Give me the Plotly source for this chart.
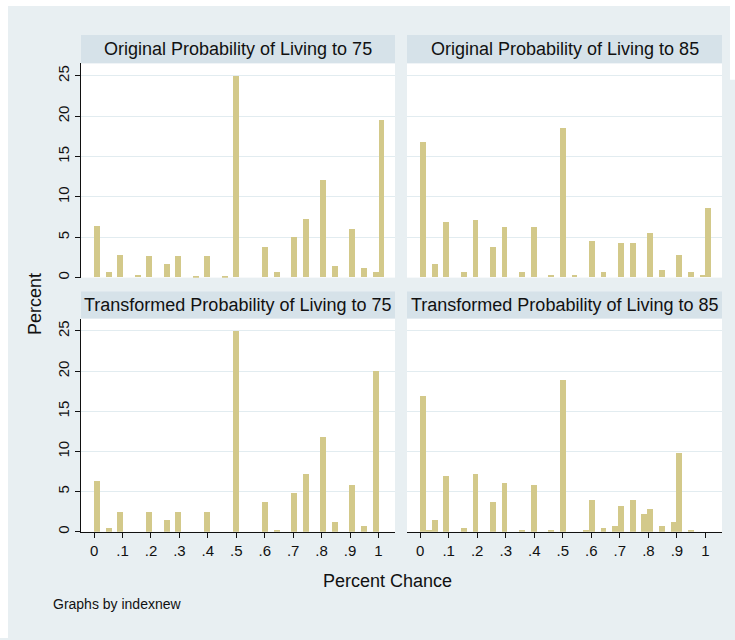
import numpy as np
import plotly.graph_objects as go

# Percent chance responses (as proportions) and percent of respondents at each value
orig75_chance = [0, .05, .1, .15, .2, .25, .3, .35, .4, .45, .5, .6, .65, .7, .75, .8, .85, .9, .95, .99, 1]
orig75_pct = [6.4, 0.6, 2.8, 0.35, 2.6, 1.6, 2.6, 0.15, 2.6, 0.15, 24.9, 3.8, 0.6, 5.0, 7.2, 12.0, 1.35, 6.0, 1.15, 0.6, 19.5]

orig85_chance = [0, .05, .1, .15, .2, .25, .3, .35, .4, .45, .5, .55, .6, .65, .7, .75, .8, .85, .9, .95, .99, 1]
orig85_pct = [16.8, 1.6, 6.9, 0.6, 7.1, 3.8, 6.2, 0.6, 6.2, 0.35, 18.5, 0.35, 4.5, 0.6, 4.25, 4.25, 5.5, 0.85, 2.8, 0.6, 0.35, 8.6]

trans75_chance = [0, .05, .1, .2, .25, .3, .4, .5, .6, .65, .7, .75, .8, .85, .9, .95, .99]
trans75_pct = [6.45, 0.55, 2.5, 2.5, 1.55, 2.5, 2.5, 25.0, 3.75, 0.3, 4.95, 7.2, 11.9, 1.3, 5.95, 0.8, 20.1]

trans85_chance = [0, .03, .05, .1, .15, .2, .25, .3, .35, .4, .45, .5, .58, .6, .65, .68, .7, .75, .78, .8, .85, .88, .9, .95]
trans85_pct = [17.0, 0.3, 1.55, 6.95, 0.55, 7.2, 3.75, 6.2, 0.3, 5.95, 0.3, 19.0, 0.3, 4.0, 0.55, 0.8, 3.3, 4.0, 2.3, 2.95, 0.8, 1.3, 9.9, 0.3]

panel_titles = [
    "Original Probability of Living to 75",
    "Original Probability of Living to 85",
    "Transformed Probability of Living to 75",
    "Transformed Probability of Living to 85",
]

x_tick_vals = [0, .1, .2, .3, .4, .5, .6, .7, .8, .9, 1]
x_tick_text = ["0", ".1", ".2", ".3", ".4", ".5", ".6", ".7", ".8", ".9", "1"]
y_tick_vals = [0, 5, 10, 15, 20, 25]

N_BINS = 49
BIN_W = 1.0 / N_BINS

W, H = 735, 640
FONT = "Liberation Sans Narrow, Arial Narrow, Liberation Sans, Arial, sans-serif"
BAR_COLOR = "#d3c98a"
BG = "#e8eff2"
STRIP = "#d6e2e9"
GRID = "#e2ecf0"


def px_x(x):
    return x / W


def px_y(y):
    return 1 - y / H


def bin_centers(values):
    idx = np.minimum(np.floor(np.asarray(values) * N_BINS + 1e-9), N_BINS)
    return (idx + 0.5) * BIN_W


# Pixel frame of each panel: (left, right, strip top, plot top, plot bottom)
cols = [(81, 395), (407, 722)]
rows = [(35, 63.5, 278.5), (292.5, 319.5, 533.5)]

panels = [
    (orig75_chance, orig75_pct),
    (orig85_chance, orig85_pct),
    (trans75_chance, trans75_pct),
    (trans85_chance, trans85_pct),
]

fig = go.Figure()
shapes = []
annotations = []

for i, (chance, pct) in enumerate(panels):
    r, c = divmod(i, 2)
    left, right = cols[c]
    s_top, p_top, p_bot = rows[r]
    n = i + 1
    xa = "x" if n == 1 else f"x{n}"
    ya = "y" if n == 1 else f"y{n}"
    fig.add_trace(go.Bar(
        x=bin_centers(chance), y=pct, width=BIN_W,
        marker=dict(color=BAR_COLOR, line=dict(width=0)),
        xaxis=xa, yaxis=ya, showlegend=False, hoverinfo="skip",
    ))
    xkey = "xaxis" if n == 1 else f"xaxis{n}"
    ykey = "yaxis" if n == 1 else f"yaxis{n}"
    bottom_row = r == 1
    left_col = c == 0
    fig.layout[xkey] = dict(
        domain=[px_x(left), px_x(right)], anchor=ya,
        range=[-0.046, 1.058], showgrid=False, zeroline=False,
        showline=bottom_row, linecolor="#111111", linewidth=1.2,
        ticks="outside" if bottom_row else "", ticklen=5, tickwidth=1.2,
        tickcolor="#111111",
        tickvals=x_tick_vals, ticktext=x_tick_text,
        showticklabels=bottom_row,
        tickfont=dict(family=FONT, size=15, color="#111111"),
        fixedrange=True,
    )
    fig.layout[ykey] = dict(
        domain=[px_y(p_bot), px_y(p_top)], anchor=xa,
        range=[0, 26.55], showgrid=True, gridcolor=GRID, gridwidth=1.2,
        zeroline=False,
        showline=left_col, linecolor="#111111", linewidth=1.2,
        ticks="outside" if left_col else "", ticklen=5, tickwidth=1.2,
        tickcolor="#111111",
        tickvals=y_tick_vals, showticklabels=left_col, tickangle=-90,
        tickfont=dict(family=FONT, size=15, color="#111111"),
        fixedrange=True,
    )
    # title strip above each panel
    shapes.append(dict(
        type="rect", xref="paper", yref="paper", layer="below",
        x0=px_x(left), x1=px_x(right), y0=px_y(p_top), y1=px_y(s_top),
        fillcolor=STRIP, line=dict(width=0),
    ))
    annotations.append(dict(
        text=panel_titles[i], xref="paper", yref="paper",
        x=px_x((left + right) / 2), y=px_y((s_top + p_top) / 2),
        xanchor="center", yanchor="middle", showarrow=False,
        font=dict(family=FONT, size=18, color="#111111"),
    ))

# thin white margin around the graph region
for x0, y0, x1, y1 in [(0, 0, W, 6), (0, 0, 8, H), (730, 0, W, 80)]:
    shapes.append(dict(
        type="rect", xref="paper", yref="paper", layer="below",
        x0=px_x(x0), x1=px_x(x1), y0=px_y(y1), y1=px_y(y0),
        fillcolor="white", line=dict(width=0),
    ))

annotations += [
    dict(text="Percent", xref="paper", yref="paper", x=px_x(35), y=px_y(305),
         textangle=-90, showarrow=False, xanchor="center", yanchor="middle",
         font=dict(family=FONT, size=18, color="#111111")),
    dict(text="Percent Chance", xref="paper", yref="paper", x=px_x(387), y=px_y(583),
         showarrow=False, xanchor="center", yanchor="middle",
         font=dict(family=FONT, size=18, color="#111111")),
    dict(text="Graphs by indexnew", xref="paper", yref="paper", x=px_x(51), y=px_y(606),
         showarrow=False, xanchor="left", yanchor="middle",
         font=dict(family=FONT, size=14, color="#111111")),
]

fig.update_layout(
    width=W, height=H, margin=dict(l=0, r=0, t=0, b=0),
    paper_bgcolor=BG, plot_bgcolor="white",
    barmode="overlay", bargap=0,
    shapes=shapes, annotations=annotations,
)

fig.write_html("out.html")
